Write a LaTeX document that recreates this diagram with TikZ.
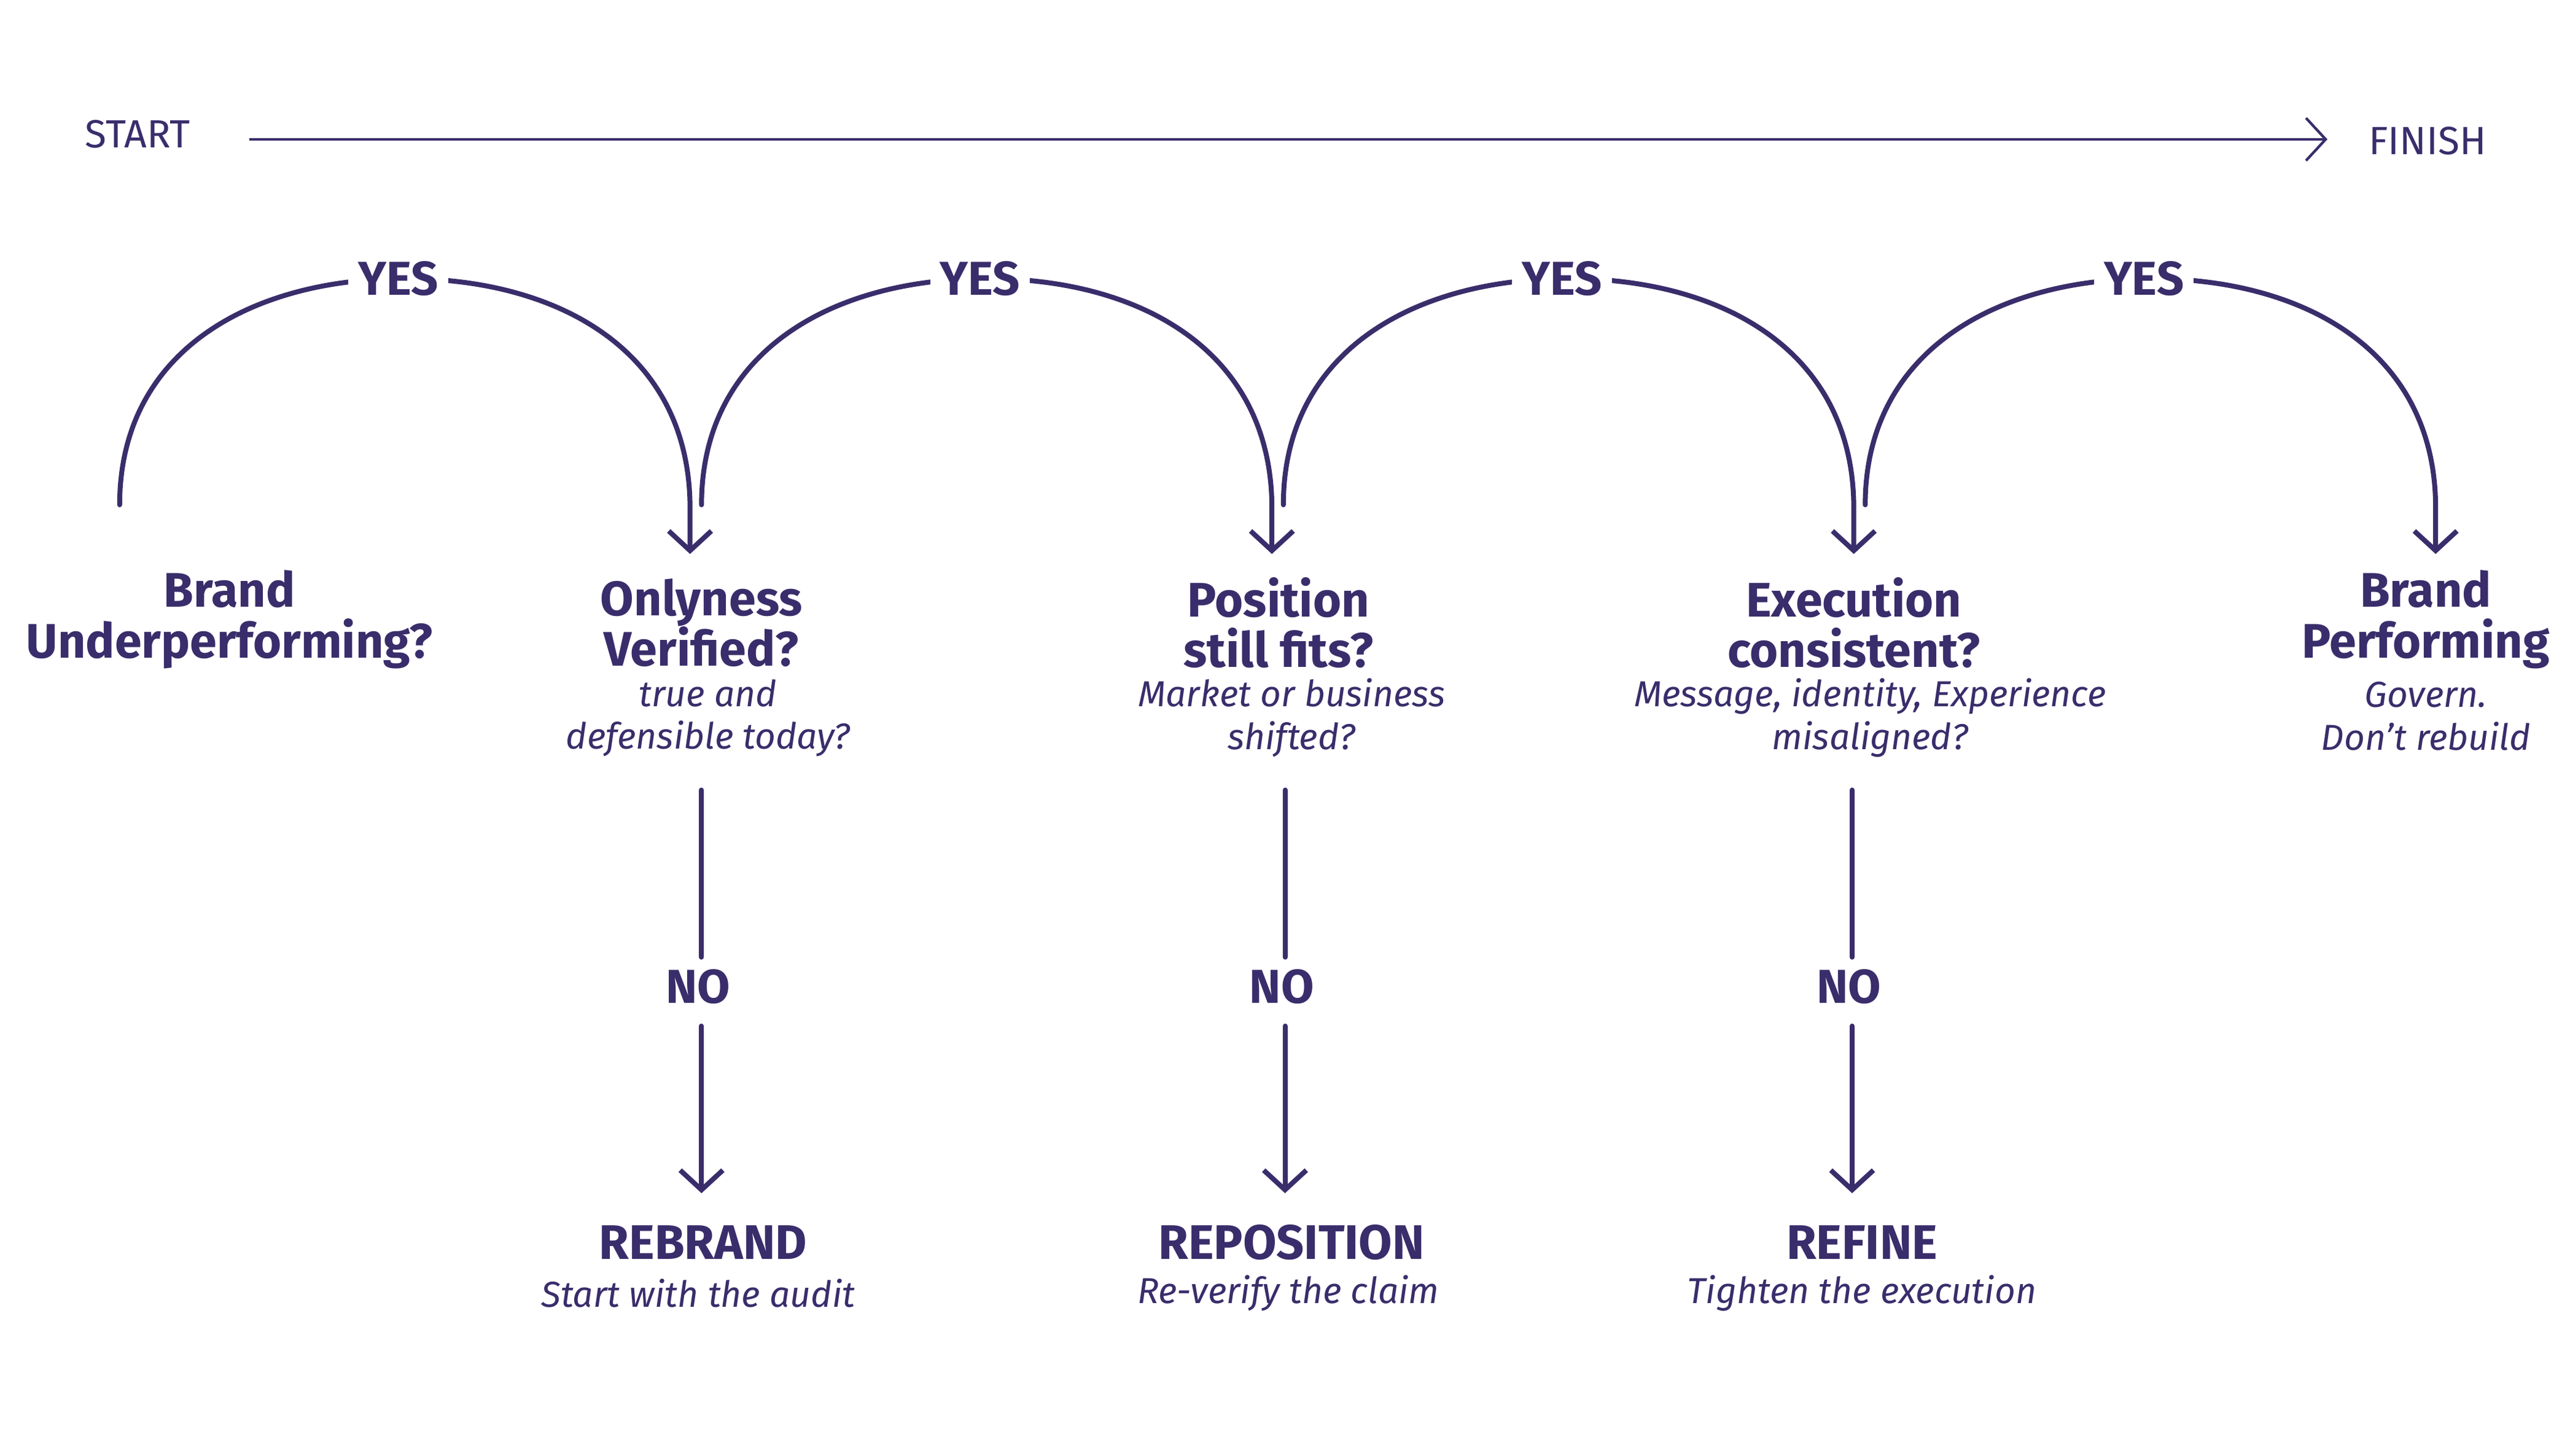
\documentclass[tikz,border=0pt]{standalone}
\usepackage{fontspec}
\setmainfont{Fira Sans}
\usetikzlibrary{arrows.meta}
\definecolor{ink}{HTML}{3A2D6B}
\begin{document}
\begin{tikzpicture}[x=0.5pt,y=-0.5pt,
  every node/.style={text=ink,align=center},
  flow/.style={draw=ink,line width=1.5pt,line cap=round},
  tip/.style={-{Straight Barb[length=6pt,width=13pt,line width=1.5pt]}},
  ttl/.style={font=\fontsize{14.8}{15.5}\selectfont\bfseries},
  sub/.style={font=\fontsize{11}{13}\selectfont\itshape},
  lab/.style={font=\fontsize{14.5}{15}\selectfont\bfseries,fill=white,inner sep=3pt},
  end/.style={font=\fontsize{12}{13}\selectfont}]
\useasboundingbox[fill=white] (0,0) rectangle (1568,888);
% top arrow
\node[end] (start) at (84,82) {START};
\node[end] (finish) at (1481,86) {FINISH};
\coordinate (ta) at (152,85);
\coordinate (tb) at (1420,85);
\draw[draw=ink,line width=0.8pt,-{Straight Barb[length=6pt,width=13pt,line width=0.8pt]}] (ta) -- (tb);
% decision texts
\node[ttl] (q0) at (140,378) {Brand\\Underperforming?};
\node[ttl] (q1) at (428,380) {Onlyness\\Verified?};
\node[sub] (s1) at (432,438) {true and\\defensible today?};
\node[ttl] (q2) at (780,380) {Position\\still fits?};
\node[sub] (s2) at (788,438) {Market or business\\shifted?};
\node[ttl] (q3) at (1131,380) {Execution\\consistent?};
\node[sub] (s3) at (1141,438) {Message, identity, Experience\\misaligned?};
\node[ttl] (q4) at (1480,378) {Brand\\Performing};
\node[sub] (s4) at (1480,437) {Govern.\\Don’t rebuild};
% arcs
\foreach \c/\i in {247/1,602/2,957/3,1312/4}{
  \pgfmathsetmacro{\a}{\c-174}
  \pgfmathsetmacro{\b}{\c+174}
  \coordinate (as\i) at (\a,308);
  \coordinate (ae\i) at (\b,338);
  \draw[flow,tip] (as\i) .. controls (\a,215) and (\c-95,170) .. (\c,170)
     .. controls (\c+95,170) and (\b,215) .. (\b,310) -- (ae\i);
  \node[lab] (yes\i) at (\c-4,170) {YES};
}
% NO branches
\foreach \x/\i in {428/1,784/2,1130/3}{
  \coordinate (na\i) at (\x,482);
  \coordinate (nb\i) at (\x,584);
  \coordinate (nc\i) at (\x,626);
  \coordinate (nd\i) at (\x,728);
  \draw[flow] (na\i) -- (nb\i);
  \draw[flow,tip] (nc\i) -- (nd\i);
  \node[lab] (no\i) at (\x-2,602) {NO};
}
\node[ttl] (r1) at (429,758) {REBRAND};
\node[sub] (rs1) at (426,789) {Start with the audit};
\node[ttl] (r2) at (788,758) {REPOSITION};
\node[sub] (rs2) at (786,789) {Re-verify the claim};
\node[ttl] (r3) at (1136,758) {REFINE};
\node[sub] (rs3) at (1136,789) {Tighten the execution};
\end{tikzpicture}
\end{document}
